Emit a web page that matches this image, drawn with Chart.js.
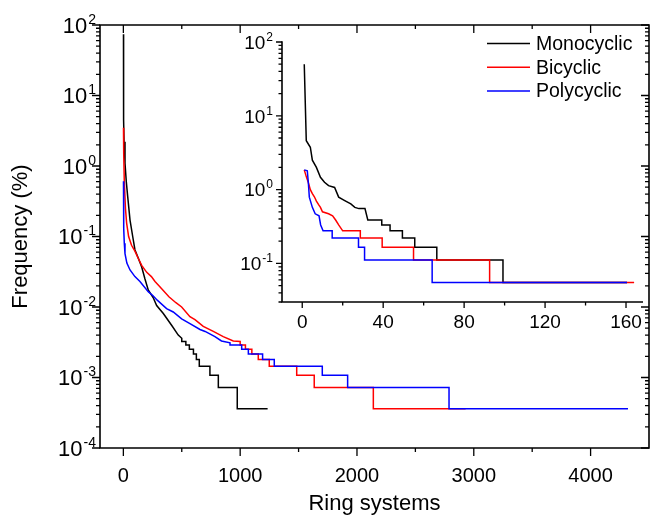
<!DOCTYPE html>
<html>
<head>
<meta charset="utf-8">
<script src="https://cdn.jsdelivr.net/npm/chart.js@4.4.0/dist/chart.umd.min.js"></script>
<style>
  body { margin: 0; background: #fff; }
  #wrap { position: relative; width: 651px; height: 517px; }
  #main { position: absolute; left: 0; top: 0; }
  #inset { position: absolute; left: 230px; top: 30px; }
</style>
</head>
<body>
<div id="wrap">
  <canvas id="main" width="651" height="517"></canvas>
  <canvas id="inset" width="421" height="305"></canvas>
</div>
<script>
// ---- main plot: frequency vs. ring-system rank ----
const monoX = [1, 2, 6, 14, 25, 37, 57, 80, 99, 128, 157, 185, 213, 256, 285, 342, 413, 470, 500, 500,
  535, 535, 565, 565, 600, 600, 625, 625, 650, 650, 741, 741, 813, 813, 975, 975, 1235];
const monoY = [74, 4.5, 2.2, 1.1, 0.6, 0.37, 0.171, 0.1, 0.065, 0.049, 0.037, 0.025, 0.0175, 0.0135, 0.0105, 0.0081, 0.0055, 0.004, 0.0036, 0.00324,
  0.00324, 0.00288, 0.00288, 0.00252, 0.00252, 0.00216, 0.00216, 0.0018, 0.0018, 0.00144, 0.00144, 0.00108, 0.00108, 0.00072, 0.00072, 0.00036, 0.00036];

const biX = [1, 3, 8, 18, 28, 45, 70, 99, 125, 157, 200, 240, 271, 330, 390, 450, 499, 570, 613, 684,
  770, 855, 941, 1000, 1000, 1045, 1045, 1100, 1100, 1155, 1155, 1249, 1249, 1484, 1484, 1634, 1634, 2140, 2140, 2930];
const biY = [3.5, 1.5, 0.6, 0.25, 0.155, 0.1, 0.075, 0.062, 0.05, 0.039, 0.031, 0.027, 0.023, 0.018, 0.014, 0.0115, 0.01, 0.0073, 0.0066, 0.0053,
  0.0045, 0.0038, 0.0033, 0.00324, 0.00288, 0.00288, 0.00252, 0.00252, 0.00216, 0.00216, 0.0018, 0.0018, 0.00144, 0.00144, 0.00108, 0.00108, 0.00072, 0.00072, 0.00036, 0.00036];

const polyX = [1, 2, 4, 8, 14, 30, 57, 99, 142, 213, 256, 290, 370, 427, 499, 570, 656, 700, 784, 840,
  913, 913, 1013, 1013, 1070, 1070, 1192, 1192, 1292, 1292, 1703, 1703, 1920, 1920, 2788, 2788, 4320];
const polyY = [0.61, 0.25, 0.13, 0.08, 0.057, 0.042, 0.0335, 0.027, 0.023, 0.0165, 0.0143, 0.0125, 0.0095, 0.0085, 0.0068, 0.0058, 0.0048, 0.0045, 0.0038, 0.0033,
  0.0031, 0.00288, 0.00288, 0.00252, 0.00252, 0.00216, 0.00216, 0.0018, 0.0018, 0.00144, 0.00144, 0.00108, 0.00108, 0.00072, 0.00072, 0.00036, 0.00036];

const mainXTicks = [0, 1000, 2000, 3000, 4000];
const mainXMinor = [500, 1500, 2500, 3500];
const mainYExps = [-4, -3, -2, -1, 0, 1, 2];

// ---- inset: first ~160 ring systems ----
const inMonoX = [1, 2, 4, 5, 7, 9, 11, 13, 16, 18, 21, 24, 26, 28, 31, 32.4, 39.3, 39.3, 43.4, 43.4,
  49.5, 49.5, 55.6, 55.6, 66.5, 66.5, 99.2, 99.2, 160.5];
const inMonoY = [49.8, 4.6, 3.75, 2.5, 2.0, 1.47, 1.26, 1.13, 1.07, 0.79, 0.71, 0.64, 0.575, 0.553, 0.553, 0.387, 0.387, 0.332, 0.332, 0.2765,
  0.2765, 0.221, 0.221, 0.166, 0.166, 0.111, 0.111, 0.0553, 0.0553];

const inBiX = [1, 2, 3, 4, 5, 6, 7, 8, 9, 10, 13, 15, 16.5, 18, 20, 28.7, 28.7, 39.5, 39.5, 55, 55, 92.6, 92.6, 164];
const inBiY = [1.85, 1.5, 1.25, 1.0, 0.88, 0.8, 0.7, 0.63, 0.575, 0.5, 0.47, 0.442, 0.387, 0.332, 0.2765, 0.2765, 0.221, 0.221, 0.166, 0.166, 0.111, 0.111, 0.0553, 0.0553];

const inPolyX = [1, 2.5, 3, 3.5, 5, 6.4, 8.3, 9.1, 10.3, 14.8, 14.8, 27.8, 27.8, 30.8, 30.8, 64.2, 64.2, 160.5];
const inPolyY = [1.85, 1.8, 1.26, 0.79, 0.575, 0.47, 0.442, 0.332, 0.2765, 0.2765, 0.221, 0.221, 0.166, 0.166, 0.111, 0.111, 0.0553, 0.0553];

const insetXTicks = [0, 40, 80, 120, 160];
const insetXMinor = [20, 60, 100, 140];
const insetYExps = [-1, 0, 1, 2];

const seriesNames = ['Monocyclic', 'Bicyclic', 'Polycyclic'];
const seriesColors = ['#000000', '#ff0000', '#0000ff'];

const FONT = '"Liberation Sans", Arial, sans-serif';
const pts = (xs, ys) => xs.map((x, i) => ({ x: x, y: ys[i] }));

// "10" with a raised exponent, right edge at `right`
function logLabel(ctx, exp, right, y, size, supSize) {
  ctx.font = supSize + 'px ' + FONT;
  const sw = ctx.measureText(String(exp)).width;
  ctx.font = size + 'px ' + FONT;
  const bw = ctx.measureText('10').width;
  ctx.textAlign = 'left';
  ctx.textBaseline = 'alphabetic';
  ctx.fillText('10', right - sw - 1 - bw, y + size * 0.36);
  ctx.font = supSize + 'px ' + FONT;
  ctx.fillText(String(exp), right - sw, y - size * 0.06);
}

// frame, tick marks (major + minor) and log labels
const axesPlugin = {
  id: 'axes',
  afterDatasetsDraw(chart, args, o) {
    const { ctx, chartArea: a, scales: { x, y } } = chart;
    ctx.save();
    ctx.strokeStyle = '#000';
    ctx.lineWidth = 1.6;
    ctx.lineCap = 'square';
    ctx.beginPath();
    ctx.moveTo(a.left, a.top);
    ctx.lineTo(a.left, a.bottom);
    ctx.lineTo(a.right, a.bottom);
    if (o.box) { ctx.lineTo(a.right, a.top); ctx.lineTo(a.left, a.top); }
    ctx.stroke();

    ctx.lineCap = 'butt';
    ctx.lineWidth = 1.3;
    ctx.beginPath();
    const tick = (px, py, dx, dy) => { ctx.moveTo(px, py); ctx.lineTo(px + dx, py + dy); };
    const xt = (v, len) => {
      const px = x.getPixelForValue(v);
      tick(px, a.bottom, 0, len);
      if (o.box) tick(px, a.top, 0, len);
    };
    const yt = (v, len) => {
      const py = y.getPixelForValue(v);
      tick(a.left, py, -len, 0);
      if (o.box) tick(a.right, py, -len, 0);
    };
    o.xMajor.forEach(v => xt(v, o.major));
    o.xMinor.forEach(v => xt(v, o.minor));
    const lo = Math.floor(Math.log10(y.min)), hi = Math.floor(Math.log10(y.max));
    for (let e = lo; e <= hi; e++) {
      const base = Math.pow(10, e);
      if (base >= y.min * 0.999) yt(base, o.major);
      for (let m = 2; m <= 9; m++) {
        const v = m * base;
        if (v >= y.min * 0.999 && v <= y.max * 1.001) yt(v, o.minor);
      }
    }
    ctx.stroke();

    ctx.fillStyle = '#000';
    o.yExps.forEach(e => logLabel(ctx, e, a.left - o.labelGap, y.getPixelForValue(Math.pow(10, e)), o.size, o.supSize));
    ctx.restore();
  }
};

const legendPlugin = {
  id: 'insetLegend',
  afterDraw(chart, args, o) {
    const ctx = chart.ctx;
    ctx.save();
    ctx.font = o.size + 'px ' + FONT;
    ctx.textAlign = 'left';
    ctx.textBaseline = 'middle';
    seriesNames.forEach((name, i) => {
      const yy = o.top + i * o.gap;
      ctx.strokeStyle = seriesColors[i];
      ctx.lineWidth = 1.5;
      ctx.beginPath();
      ctx.moveTo(o.left, yy);
      ctx.lineTo(o.left + o.len, yy);
      ctx.stroke();
      ctx.fillStyle = '#000';
      ctx.fillText(name, o.left + o.len + 6, yy + 1);
    });
    ctx.restore();
  }
};

function makeDatasets(xsList, ysList) {
  // blue drawn on top, then red, then black
  return seriesNames.map((name, i) => ({
    label: name,
    data: pts(xsList[i], ysList[i]),
    borderColor: seriesColors[i],
    borderWidth: 1.5,
    pointRadius: 0,
    tension: 0,
    fill: false,
    order: 2 - i
  }));
}

new Chart(document.getElementById('main'), {
  type: 'line',
  data: { datasets: makeDatasets([monoX, biX, polyX], [monoY, biY, polyY]) },
  options: {
    responsive: false,
    animation: false,
    layout: { padding: { top: 25, right: 2, left: 0, bottom: 0 } },
    plugins: {
      legend: { display: false },
      tooltip: { enabled: false },
      axes: { box: true, xMajor: mainXTicks, xMinor: mainXMinor, yExps: mainYExps, major: 8, minor: 4, labelGap: 4, size: 22, supSize: 14 }
    },
    scales: {
      x: {
        type: 'linear', min: -200, max: 4500,
        afterBuildTicks: s => { s.ticks = mainXTicks.map(v => ({ value: v })); },
        afterFit: s => { s.height = 69; },
        grid: { display: false, drawTicks: false },
        border: { display: false },
        ticks: { color: '#000', font: { family: FONT, size: 20 }, padding: 16, maxRotation: 0, callback: v => String(v) },
        title: { display: true, text: 'Ring systems', color: '#000', font: { family: FONT, size: 22 }, padding: 0 }
      },
      y: {
        type: 'logarithmic', min: 1e-4, max: 100,
        afterFit: s => { s.width = 100; },
        grid: { display: false, drawTicks: false },
        border: { display: false },
        ticks: { display: false },
        title: { display: true, text: 'Frequency (%)', color: '#000', font: { family: FONT, size: 22 }, padding: { top: 8, bottom: 0 } }
      }
    }
  },
  plugins: [axesPlugin]
});

new Chart(document.getElementById('inset'), {
  type: 'line',
  data: { datasets: makeDatasets([inMonoX, inBiX, inPolyX], [inMonoY, inBiY, inPolyY]) },
  options: {
    responsive: false,
    animation: false,
    layout: { padding: { top: 12, right: 3, left: 0, bottom: 0 } },
    plugins: {
      legend: { display: false },
      tooltip: { enabled: false },
      axes: { box: false, xMajor: insetXTicks, xMinor: insetXMinor, yExps: insetYExps, major: 6, minor: 3.5, labelGap: 9, size: 19, supSize: 12 },
      insetLegend: { left: 257, top: 13.5, gap: 23.7, len: 43, size: 19.5 }
    },
    scales: {
      x: {
        type: 'linear', min: -10, max: 168,
        afterBuildTicks: s => { s.ticks = insetXTicks.map(v => ({ value: v })); },
        afterFit: s => { s.height = 33; },
        grid: { display: false, drawTicks: false },
        border: { display: false },
        ticks: { color: '#000', font: { family: FONT, size: 19 }, padding: 9, maxRotation: 0, callback: v => String(v) }
      },
      y: {
        type: 'logarithmic', min: 0.03, max: 100,
        afterFit: s => { s.width = 52; },
        grid: { display: false, drawTicks: false },
        border: { display: false },
        ticks: { display: false }
      }
    }
  },
  plugins: [axesPlugin, legendPlugin]
});
</script>
</body>
</html>
